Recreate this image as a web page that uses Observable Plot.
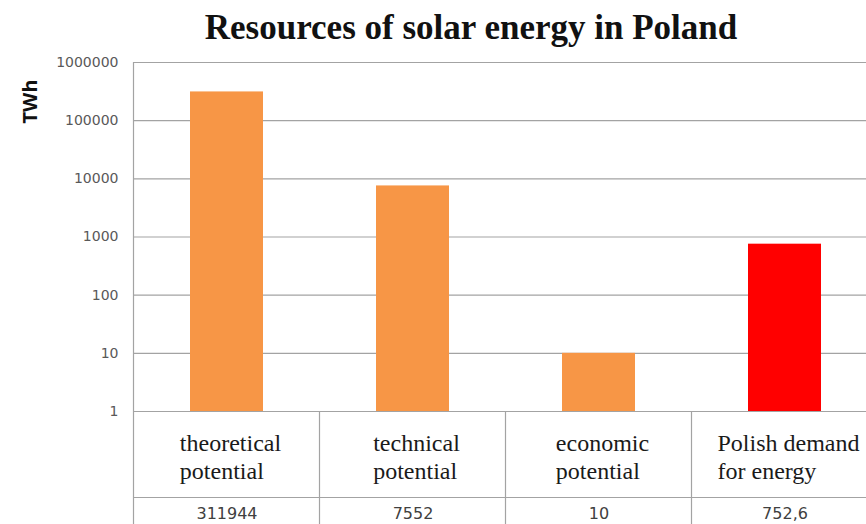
<!DOCTYPE html>
<html>
<head>
<meta charset="utf-8">
<script src="https://cdn.jsdelivr.net/npm/d3@7"></script>
<script src="https://cdn.jsdelivr.net/npm/@observablehq/plot@0.6"></script>
<style>
  html, body { margin: 0; padding: 0; background: #fff; }
  #title { width: 866px; height: 52px; box-sizing: border-box; padding-left: 76px; padding-top: 4px;
    line-height: 48px; text-align: center; font-family: "Liberation Serif", "Times New Roman", serif;
    font-weight: bold; font-size: 35px; color: #111; white-space: nowrap; }
  #wrap { position: relative; width: 866px; height: 524px; overflow: hidden; }
  #chart svg { display: block; }
  .cat { position: absolute; white-space: pre; font-family: "Liberation Serif", "Times New Roman", "DejaVu Serif", serif;
    font-weight: 400; font-size: 24px; line-height: 28px; color: #1a1a1a; text-align: left; }
</style>
</head>
<body>
<div id="wrap">
<div id="title">Resources of solar energy in Poland</div>
<div id="chart"></div>
</div>
<script>
const categories = ["theoretical potential", "technical potential", "economic potential", "Polish demand for energy"];
const labelLines = [["theoretical", "potential"], ["technical", "potential"], ["economic", "potential"], ["Polish demand", "for energy"]];
const values = [311944, 7552, 10, 752.6];
const valueLabels = ["311944", "7552", "10", "752,6"];
const colors = ["#F79646", "#F79646", "#F79646", "#FF0000"];
const yTicks = [1, 10, 100, 1000, 10000, 100000, 1000000];
const yLabel = "TWh";

const data = categories.map((c, i) => ({category: c, value: values[i], color: colors[i], label: valueLabels[i]}));

const sans = "'DejaVu Sans', sans-serif";
const gridColor = "#a3a3a3";
const titleH = 52;

const plot = Plot.plot({
  width: 866,
  height: 472,
  marginTop: 10,
  marginBottom: 113,
  marginLeft: 133,
  marginRight: 0,
  style: {fontSize: "14px", color: "#595959", background: "#fff"},
  x: {domain: categories, range: [133, 877], paddingInner: 0.61, paddingOuter: 0.305, axis: null},
  y: {type: "log", domain: [1, 1000000], axis: null},
  color: {type: "identity"},
  marks: [
    Plot.ruleY(yTicks, {stroke: gridColor, strokeWidth: 1.2}),
    Plot.barY(data, {x: "category", y1: 1, y2: "value", fill: "color"}),
    Plot.axisY({ticks: yTicks, tickFormat: d => String(d), tickSize: 0, tickPadding: 15, fill: "#595959", fontSize: 14, fontFamily: sans, label: null}),
    Plot.text([yLabel], {frameAnchor: "top-left", dx: -103, dy: 39, rotate: -90, fontWeight: "bold", fontSize: 20, fill: "#111", textAnchor: "middle", lineAnchor: "middle"}),
    Plot.text(data, {x: "category", text: "label", frameAnchor: "bottom", lineAnchor: "middle", dy: 102, fontFamily: sans, fontSize: 16, fill: "#404040"})
  ]
});

document.getElementById("chart").appendChild(plot);

const svgSel = d3.select(plot);
const xs = plot.scale("x");
const step = xs.step, bw = xs.bandwidth;
const frameTop = 10, frameBottom = 472 - 113, svgH = 472;

// table grid lines derived from the x scale
const g = svgSel.append("g").attr("stroke", gridColor).attr("stroke-width", 1.2);
g.append("line").attr("x1", 133.5).attr("x2", 133.5).attr("y1", frameTop).attr("y2", svgH);
categories.forEach((c, i) => {
  if (i === 0) return;
  const sx = xs.apply(c) - (step - bw) / 2;
  g.append("line").attr("x1", sx).attr("x2", sx).attr("y1", frameBottom).attr("y2", svgH);
});
g.append("line").attr("x1", 133).attr("x2", 866).attr("y1", 445.5).attr("y2", 445.5);

// category labels (serif, left-aligned lines, block centred on each band) as real text
const wrap = document.getElementById("wrap");
const divs = categories.map((c, i) => {
  const div = document.createElement("div");
  div.className = "cat";
  div.textContent = labelLines[i].join("\n");
  wrap.appendChild(div);
  return div;
});
// keep the widest block near the reference width whatever serif face is resolved
const widest = Math.max(...divs.map(d => d.getBoundingClientRect().width));
if (widest > 150) divs.forEach(d => { d.style.fontSize = (24 * 146 / widest) + "px"; });
categories.forEach((c, i) => {
  const div = divs[i];
  const w = div.getBoundingClientRect().width;
  const cx = xs.apply(c) + bw / 2;
  div.style.left = (cx - w / 2 + 4) + "px";
  div.style.top = (titleH + frameBottom + 18) + "px";
});
</script>
</body>
</html>
